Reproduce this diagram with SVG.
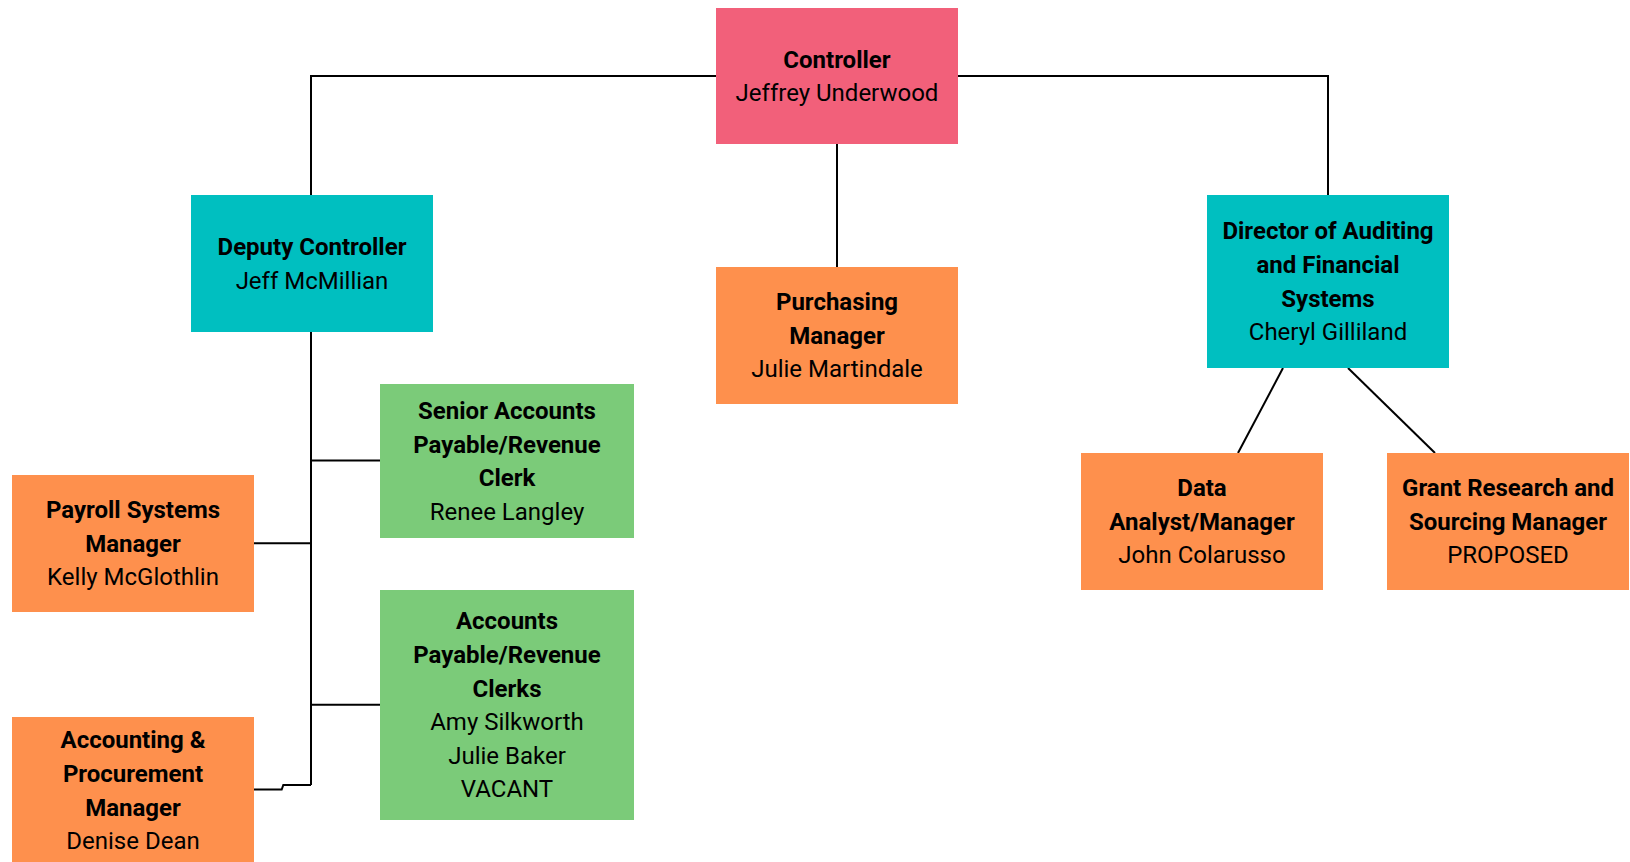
<svg xmlns="http://www.w3.org/2000/svg" width="1630" height="862" viewBox="0 0 1630 862">
  <style>
    .box { stroke: none; }
    .pink { fill: #f2607a; }
    .teal { fill: #00bfc0; }
    .orange { fill: #fe904d; }
    .green { fill: #7bcb79; }
    text { font-family: Roboto, "Liberation Sans", sans-serif; font-size: 24px; fill: #000; text-anchor: middle; }
    .t { font-weight: bold; }
    .link { fill: none; stroke: #000; stroke-width: 2; stroke-linejoin: miter; }
  </style>
  <rect width="1630" height="862" fill="#fff"/>

  <!-- connectors -->
  <g id="connectors">
    <path class="link" d="M716 76 H311 V195"/>
    <path class="link" d="M958 76 H1328 V195"/>
    <path class="link" d="M837 144 V267"/>
    <path class="link" d="M311 332 V785"/>
    <path class="link" d="M311 460.5 H380"/>
    <path class="link" d="M254 543.3 H311"/>
    <path class="link" d="M311 704.8 H380"/>
    <path class="link" d="M311 785 H283.3 L281.7 789.5 H254"/>
    <path class="link" d="M1283 368 L1238 453"/>
    <path class="link" d="M1348 368 L1435 453"/>
  </g>

  <!-- Controller -->
  <g id="controller">
    <rect class="box pink" x="716" y="8" width="242" height="136"/>
    <text x="837" y="67.7"><tspan class="t">Controller</tspan></text>
    <text x="837" y="101.3">Jeffrey Underwood</text>
  </g>

  <!-- Deputy Controller -->
  <g id="deputy-controller">
    <rect class="box teal" x="191" y="195" width="242" height="137"/>
    <text x="312" y="255"><tspan class="t">Deputy Controller</tspan></text>
    <text x="312" y="288.6">Jeff McMillian</text>
  </g>

  <!-- Purchasing Manager -->
  <g id="purchasing-manager">
    <rect class="box orange" x="716" y="267" width="242" height="137"/>
    <text x="837" y="310.2" class="t">Purchasing</text>
    <text x="837" y="343.8" class="t">Manager</text>
    <text x="837" y="377.4">Julie Martindale</text>
  </g>

  <!-- Director of Auditing and Financial Systems -->
  <g id="director-auditing">
    <rect class="box teal" x="1207" y="195" width="242" height="173"/>
    <text x="1328" y="239.4" class="t">Director of Auditing</text>
    <text x="1328" y="273" class="t">and Financial</text>
    <text x="1328" y="306.6" class="t">Systems</text>
    <text x="1328" y="340.2">Cheryl Gilliland</text>
  </g>

  <!-- Senior Accounts Payable/Revenue Clerk -->
  <g id="senior-ap-clerk">
    <rect class="box green" x="380" y="384" width="254" height="154"/>
    <text x="507" y="418.9" class="t">Senior Accounts</text>
    <text x="507" y="452.5" class="t">Payable/Revenue</text>
    <text x="507" y="486.1" class="t">Clerk</text>
    <text x="507" y="519.7">Renee Langley</text>
  </g>

  <!-- Payroll Systems Manager -->
  <g id="payroll-manager">
    <rect class="box orange" x="12" y="475" width="242" height="137"/>
    <text x="133" y="518.2" class="t">Payroll Systems</text>
    <text x="133" y="551.8" class="t">Manager</text>
    <text x="133" y="585.4">Kelly McGlothlin</text>
  </g>

  <!-- Accounts Payable/Revenue Clerks -->
  <g id="ap-clerks">
    <rect class="box green" x="380" y="590" width="254" height="230"/>
    <text x="507" y="629.3" class="t">Accounts</text>
    <text x="507" y="662.9" class="t">Payable/Revenue</text>
    <text x="507" y="696.5" class="t">Clerks</text>
    <text x="507" y="730.1">Amy Silkworth</text>
    <text x="507" y="763.7">Julie Baker</text>
    <text x="507" y="797.3">VACANT</text>
  </g>

  <!-- Accounting & Procurement Manager -->
  <g id="accounting-procurement">
    <rect class="box orange" x="12" y="717" width="242" height="145"/>
    <text x="133" y="748.3" class="t">Accounting &amp;</text>
    <text x="133" y="781.9" class="t">Procurement</text>
    <text x="133" y="815.5" class="t">Manager</text>
    <text x="133" y="849.1">Denise Dean</text>
  </g>

  <!-- Data Analyst/Manager -->
  <g id="data-analyst">
    <rect class="box orange" x="1081" y="453" width="242" height="137"/>
    <text x="1202" y="496.2" class="t">Data</text>
    <text x="1202" y="529.8" class="t">Analyst/Manager</text>
    <text x="1202" y="563.4">John Colarusso</text>
  </g>

  <!-- Grant Research and Sourcing Manager -->
  <g id="grant-research">
    <rect class="box orange" x="1387" y="453" width="242" height="137"/>
    <text x="1508" y="496.2" class="t">Grant Research and</text>
    <text x="1508" y="529.8" class="t">Sourcing Manager</text>
    <text x="1508" y="563.4">PROPOSED</text>
  </g>
</svg>
